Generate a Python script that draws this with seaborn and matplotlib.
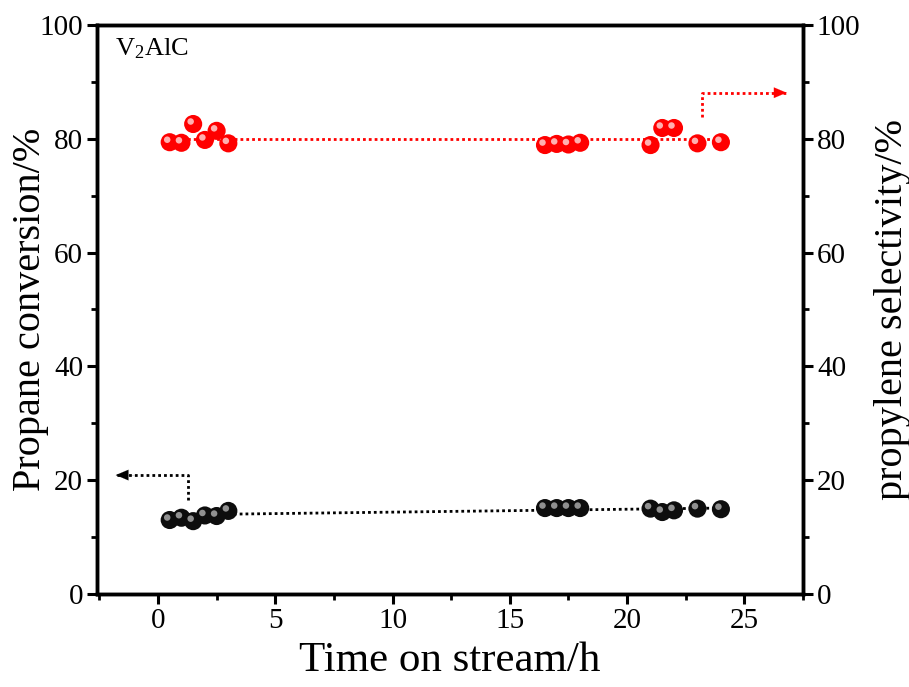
import matplotlib
matplotlib.use("Agg")
import matplotlib.pyplot as plt
import matplotlib.transforms as mtransforms
from matplotlib.ticker import MultipleLocator
import seaborn as sns
import pandas as pd

# ---------------- data ----------------
time_h = [0.5, 1.0, 1.5, 2.0, 2.5, 3.0,
          16.5, 17.0, 17.5, 18.0,
          21.0, 21.5, 22.0, 23.0, 24.0]
conversion = [13.0, 13.4, 12.8, 13.8, 13.7, 14.6,
              15.1, 15.1, 15.1, 15.1,
              15.0, 14.4, 14.7, 15.0, 14.9]
selectivity = [79.4, 79.3, 82.6, 79.8, 81.4, 79.2,
               78.9, 79.1, 79.0, 79.3,
               78.9, 81.9, 81.9, 79.2, 79.4]

fit_x = [0.5, 24.0]
conversion_fit = [13.9, 15.1]
selectivity_fit = [80.0, 80.0]

arrow_left_x = [1.3, 1.3, -1.8]
arrow_left_y = [16.5, 20.9, 20.9]
arrow_right_x = [23.2, 23.2, 26.8]
arrow_right_y = [83.8, 88.1, 88.1]

x_ticks = [0, 5, 10, 15, 20, 25]
y_ticks = [0, 20, 40, 60, 80, 100]
sample_label = "V$_2$AlC"

df = pd.DataFrame({"time": time_h, "conv": conversion, "sel": selectivity})
fit_df = pd.DataFrame({"time": fit_x, "conv": conversion_fit, "sel": selectivity_fit})

# ---------------- style ----------------
sns.set_style("ticks")
plt.rcParams["font.family"] = ["Liberation Serif", "DejaVu Serif"]
plt.rcParams["mathtext.fontset"] = "custom"
plt.rcParams["mathtext.rm"] = "Liberation Serif"
plt.rcParams["mathtext.it"] = "Liberation Serif"
for key in ("text.color", "axes.labelcolor", "xtick.color", "ytick.color",
            "axes.edgecolor", "xtick.labelcolor", "ytick.labelcolor"):
    plt.rcParams[key] = "black"

fig = plt.figure(figsize=(9.09, 6.87), dpi=100)
ax = fig.add_axes([0.1067, 0.1354, 0.7767, 0.8282])
ax2 = ax.twinx()

dot = (0, (1, 1.1))

def balls(axis, ycol, color, hl_color):
    sns.scatterplot(data=df, x="time", y=ycol, ax=axis, s=170, color=color,
                    edgecolor="none", linewidth=0, zorder=4, legend=False)
    off = mtransforms.ScaledTranslation(-2.5 / 100, 2.5 / 100, fig.dpi_scale_trans)
    sns.scatterplot(data=df, x="time", y=ycol, ax=axis, s=22, color=hl_color,
                    edgecolor="none", linewidth=0, zorder=5, legend=False,
                    alpha=0.85, transform=axis.transData + off)

arrow_style = "-|>,head_length=0.9,head_width=0.38"

# black: conversion (left)
sns.lineplot(data=fit_df, x="time", y="conv", ax=ax, color="black",
             linewidth=2, linestyle=dot, zorder=3)
balls(ax, "conv", "#0d0d0d", "#a8a8a8")
ax.plot(arrow_left_x, arrow_left_y, color="black", linewidth=2, linestyle=dot)
ax.annotate("", xy=(arrow_left_x[-1], arrow_left_y[-1]),
            xytext=(arrow_left_x[-1] + 0.8, arrow_left_y[-1]),
            arrowprops=dict(arrowstyle=arrow_style,
                            color="black", lw=0.1, shrinkA=0, shrinkB=0))

# red: selectivity (right)
sns.lineplot(data=fit_df, x="time", y="sel", ax=ax2, color="#ff0000",
             linewidth=2, linestyle=dot, zorder=3)
balls(ax2, "sel", "#ff0000", "#ffd0d0")
ax2.plot(arrow_right_x, arrow_right_y, color="#ff0000", linewidth=2, linestyle=dot)
ax2.annotate("", xy=(arrow_right_x[-1], arrow_right_y[-1]),
             xytext=(arrow_right_x[-1] - 0.8, arrow_right_y[-1]),
             arrowprops=dict(arrowstyle=arrow_style,
                             color="#ff0000", lw=0.1, shrinkA=0, shrinkB=0))

# axes
ax.set_xlim(-2.6, 27.5)
for a in (ax, ax2):
    a.set_ylim(0, 100)
    a.set_yticks(y_ticks)
    a.yaxis.set_minor_locator(MultipleLocator(10))
    for s in a.spines.values():
        s.set_linewidth(2.5)
        s.set_color("black")
        s.set_visible(True)
    a.tick_params(which="major", direction="out", length=7, width=2.2,
                  labelsize=21, pad=3, colors="black")
    a.tick_params(which="minor", direction="out", length=4, width=2,
                  colors="black")
ax.set_xticks(x_ticks)
ax.xaxis.set_minor_locator(MultipleLocator(2.5))
ax.tick_params(axis="x", which="both", top=False)

ax.set_xlabel("Time on stream/h", fontsize=31, color="black")
ax.set_ylabel("Propane conversion/%", fontsize=29, color="black")
ax2.set_ylabel("propylene selectivity/%", fontsize=29, color="black")
ax.xaxis.set_label_coords(0.5, -0.083)
ax.yaxis.set_label_coords(-0.068, 0.5)
ax2.yaxis.set_label_coords(1.100, 0.5)

ax.text(0.025, 0.98, sample_label, transform=ax.transAxes, fontsize=19,
        va="top", ha="left", color="black")

fig.savefig("out.png", dpi=100)
